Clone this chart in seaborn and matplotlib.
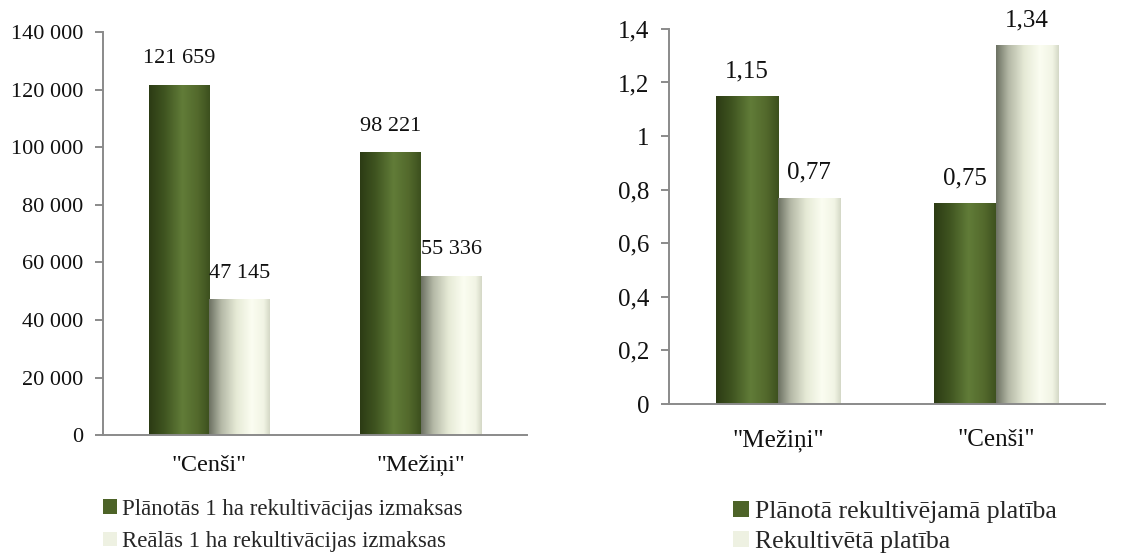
import numpy as np
import pandas as pd
import matplotlib
matplotlib.use("Agg")
import matplotlib.pyplot as plt
from matplotlib.colors import LinearSegmentedColormap
from matplotlib.patches import Patch
import seaborn as sns

# Costs per hectare of reclamation
cost_sites = ['"Cenši"', '"Mežiņi"']
cost_planned = [121659, 98221]
cost_actual = [47145, 55336]
cost_series = ["Plānotās 1 ha rekultivācijas izmaksas", "Reālās 1 ha rekultivācijas izmaksas"]
cost_ticks = [0, 20000, 40000, 60000, 80000, 100000, 120000, 140000]

# Reclaimed area
area_sites = ['"Mežiņi"', '"Cenši"']
area_planned = [1.15, 0.75]
area_done = [0.77, 1.34]
area_series = ["Plānotā rekultivējamā platība", "Rekultivētā platība"]
area_ticks = [0, 0.2, 0.4, 0.6, 0.8, 1.0, 1.2, 1.4]

sns.set_theme(style="white")
plt.rcParams["font.family"] = ["Liberation Serif", "DejaVu Serif"]

GREEN = "#4d6328"
LIGHT = "#eef1e2"
green_cmap = LinearSegmentedColormap.from_list(
    "g", [(0, "#2c3b14"), (0.25, "#3f5420"), (0.55, "#617c38"), (0.8, "#53692c"), (1, "#3c501e")])
light_cmap = LinearSegmentedColormap.from_list(
    "l", [(0, "#6c7162"), (0.2, "#b4b8a6"), (0.45, "#e6ead6"), (0.7, "#fbfdf1"), (0.9, "#f1f4e4"), (1, "#d4d8c6")])


def fmt_thousands(v):
    return f"{int(round(v)):,}".replace(",", " ")


def fmt_decimal(v):
    s = f"{v:.2f}".rstrip("0").rstrip(".")
    return s.replace(".", ",")


def shade_bars(ax, cmaps):
    grad = np.linspace(0, 1, 256).reshape(1, -1)
    for container, cmap in zip(ax.containers, cmaps):
        for bar in container:
            x0, y0 = bar.get_x(), bar.get_y()
            w, h = bar.get_width(), bar.get_height()
            im = ax.imshow(grad, cmap=cmap, aspect="auto",
                           extent=(x0, x0 + w, y0, y0 + h), zorder=bar.get_zorder() + 0.1,
                           interpolation="bilinear")
            im.set_clip_path(bar)
            bar.set_edgecolor("none")


def draw_panel(ax, sites, s1, s2, names, ticks, ylim, tick_fmt, label_fmt, fs, xfs, xpad, lpad):
    df = pd.DataFrame({
        "site": sites * 2,
        "value": list(s1) + list(s2),
        "series": [names[0]] * len(sites) + [names[1]] * len(sites),
    })
    sns.barplot(data=df, x="site", y="value", hue="series", ax=ax,
                palette=[GREEN, LIGHT], width=0.57, gap=0, legend=False,
                saturation=1, errorbar=None)
    shade_bars(ax, [green_cmap, light_cmap])
    for container in ax.containers:
        ax.bar_label(container, labels=[label_fmt(b.get_height()) for b in container],
                     padding=lpad, fontsize=fs, color="#111111")
    ax.set_xlim(-0.5, len(sites) - 0.5)
    ax.set_ylim(*ylim)
    ax.set_yticks(ticks)
    ax.set_yticklabels([tick_fmt(t) for t in ticks], fontsize=fs, color="#111111")
    ax.set_xticks(range(len(sites)))
    ax.set_xticklabels(sites, fontsize=xfs, color="#111111")
    ax.set_xticks(np.arange(-0.5, len(sites)), minor=True)
    ax.tick_params(axis="x", which="major", length=0, pad=xpad)
    ax.tick_params(axis="x", which="minor", length=6, width=1.4, color="#8a8a8a", direction="out")
    ax.tick_params(axis="y", length=6, width=1.4, color="#8a8a8a", direction="out", left=True, pad=8)
    ax.set_xlabel("")
    ax.set_ylabel("")
    for side in ("top", "right"):
        ax.spines[side].set_visible(False)
    for side in ("left", "bottom"):
        ax.spines[side].set_color("#8a8a8a")
        ax.spines[side].set_linewidth(1.4)
    ax.grid(False)


fig = plt.figure(figsize=(11.3, 5.55), dpi=100)
ax1 = fig.add_axes([0.0912, 0.216, 0.375, 0.726])
ax2 = fig.add_axes([0.592, 0.272, 0.386, 0.676])

draw_panel(ax1, cost_sites, cost_planned, cost_actual, cost_series, cost_ticks,
           (0, 140000), fmt_thousands, fmt_thousands, 16, 17.5, 14, 12)
draw_panel(ax2, area_sites, area_planned, area_done, area_series, area_ticks,
           (0, 1.4), fmt_decimal, fmt_decimal, 18, 18, 18, 10)

for names, anchor, fs, sp in ((cost_series, (0.083, 0.118), 16.5, 0.5),
                              (area_series, (0.640, 0.116), 18.5, 0.3)):
    handles = [Patch(facecolor=GREEN, edgecolor="none", label=names[0]),
               Patch(facecolor=LIGHT, edgecolor="none", label=names[1])]
    fig.legend(handles=handles, loc="upper left", bbox_to_anchor=anchor,
               frameon=False, fontsize=fs, handlelength=0.6, handleheight=0.6,
               handletextpad=0.25, labelspacing=sp, borderaxespad=0)

fig.savefig("out.png", dpi=100, facecolor="white")
